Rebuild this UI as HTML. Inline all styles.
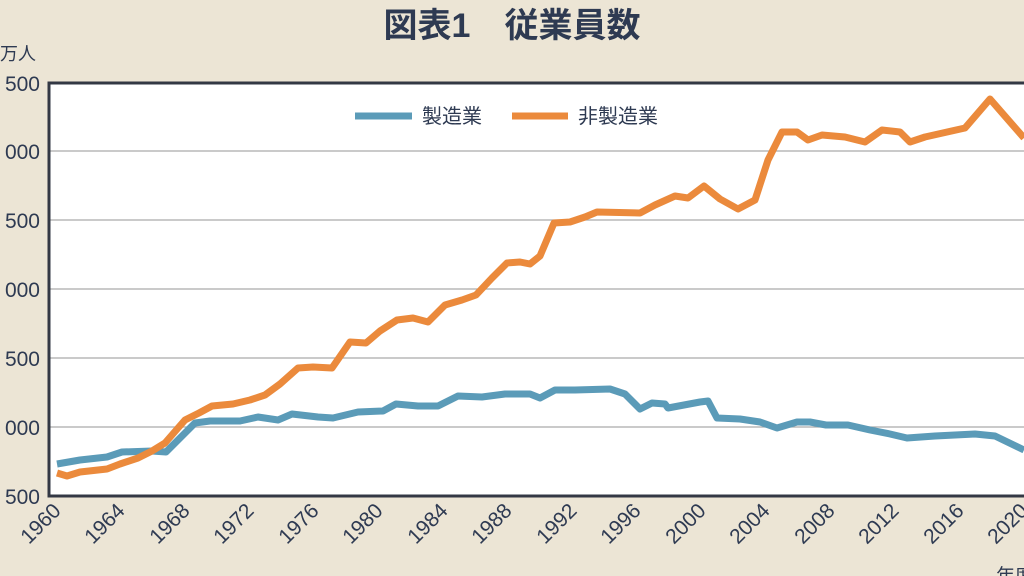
<!DOCTYPE html>
<html><head><meta charset="utf-8"><style>
html,body{margin:0;padding:0;background:#ece5d5;}
svg{display:block;font-family:"Liberation Sans","Noto Sans CJK JP",sans-serif;}
</style></head><body>
<svg width="1024" height="576" viewBox="0 0 1024 576">
<rect width="1024" height="576" fill="#ece5d5"/>
<text x="512" y="37" text-anchor="middle" font-size="34" font-weight="bold" fill="#2e3a52">図表1　従業員数</text>
<text x="0" y="60" font-size="18" fill="#2e3a52">万人</text>
<rect x="49" y="83" width="990" height="413" fill="#fff"/>
<g stroke="#aaa" stroke-width="1.3">
<line x1="49" y1="151" x2="1024" y2="151"/><line x1="49" y1="220" x2="1024" y2="220"/>
<line x1="49" y1="289" x2="1024" y2="289"/><line x1="49" y1="358" x2="1024" y2="358"/>
<line x1="49" y1="427" x2="1024" y2="427"/>
</g>
<path d="M1024 83 H49 V496 H1024" fill="none" stroke="#333844" stroke-width="3"/>
<g font-size="21" fill="#2e3a52" text-anchor="end">
<text x="40" y="91">500</text><text x="40" y="159">000</text><text x="40" y="228">500</text>
<text x="40" y="297">000</text><text x="40" y="366">500</text><text x="40" y="435">000</text>
<text x="40" y="504">500</text>
</g>
<g font-size="21" fill="#2e3a52" text-anchor="end">
<text transform="translate(62,512) rotate(-45)">1960</text>
<text transform="translate(126,512) rotate(-45)">1964</text>
<text transform="translate(191,512) rotate(-45)">1968</text>
<text transform="translate(255,512) rotate(-45)">1972</text>
<text transform="translate(320,512) rotate(-45)">1976</text>
<text transform="translate(384,512) rotate(-45)">1980</text>
<text transform="translate(449,512) rotate(-45)">1984</text>
<text transform="translate(513,512) rotate(-45)">1988</text>
<text transform="translate(578,512) rotate(-45)">1992</text>
<text transform="translate(642,512) rotate(-45)">1996</text>
<text transform="translate(707,512) rotate(-45)">2000</text>
<text transform="translate(771,512) rotate(-45)">2004</text>
<text transform="translate(836,512) rotate(-45)">2008</text>
<text transform="translate(900,512) rotate(-45)">2012</text>
<text transform="translate(965,512) rotate(-45)">2016</text>
<text transform="translate(1029,512) rotate(-45)">2020</text>
</g>
<text x="996" y="582" font-size="19" fill="#2e3a52">年度</text>
<line x1="355" y1="116" x2="412" y2="116" stroke="#5b9bb8" stroke-width="7"/>
<text x="422" y="123" font-size="20" fill="#2e3a52">製造業</text>
<line x1="512" y1="116" x2="568" y2="116" stroke="#eb8a3c" stroke-width="7"/>
<text x="578" y="123" font-size="20" fill="#2e3a52">非製造業</text>
<polyline fill="none" stroke="#5b9bb8" stroke-width="7" stroke-linejoin="round" points="57,464 80,460 107,457 122,452 152,451 166,452 195,423 210,421 240,421 258,417 278,420 292,414 318,417 333,418 358,412 383,411 396,404 418,406 438,406 458,396 482,397 505,394 530,394 540,398 555,390 575,390 610,389 625,394 640,409 652,403 665,404 668,408 700,402 708,401 717,418 740,419 760,422 777,428 797,422 810,422 826,425 848,425 870,430 890,434 907,438 935,436 975,434 995,436 1024,450"/>
<polyline fill="none" stroke="#eb8a3c" stroke-width="7" stroke-linejoin="round" points="57,473 67,476 80,472 107,469 120,464 138,458 152,451 165,443 185,420 199,413 212,406 233,404 250,400 265,395 280,384 298,368 313,367 332,368 350,342 366,343 380,331 397,320 413,318 428,322 445,305 462,300 476,295 492,278 507,263 520,262 530,264 540,256 554,223 570,222 585,217 597,212 640,213 655,205 675,196 688,198 704,186 720,199 738,209 755,200 768,160 782,132 797,132 808,140 822,135 845,137 865,142 882,130 900,132 910,142 925,137 965,128 990,99 1024,138"/>
</svg>
</body></html>
